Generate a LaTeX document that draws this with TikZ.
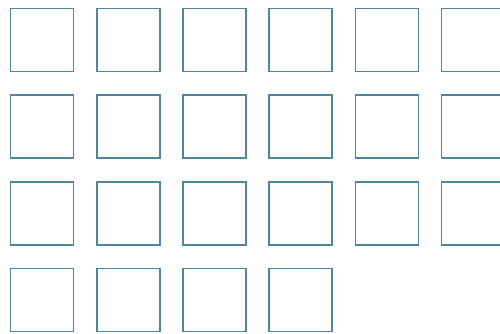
\documentclass[tikz,border=0pt]{standalone}
\definecolor{boxline}{RGB}{78,134,158}
\begin{document}
\begin{tikzpicture}[x=1pt,y=-1pt,
  cell/.style={draw=boxline, line width=1.6pt, minimum width=63pt, minimum height=63pt, inner sep=0pt, fill=white}]
\useasboundingbox (0,0) rectangle (500,333);
\clip (0,0) rectangle (500,333);
\foreach \r/\n in {1/6,2/6,3/6,4/4}{
  \foreach \c in {1,...,\n}{
    \node[cell] (b-\r-\c) at ({42+86.2*(\c-1)},{40+86.6*(\r-1)}) {};
  }
}
\end{tikzpicture}
\end{document}
